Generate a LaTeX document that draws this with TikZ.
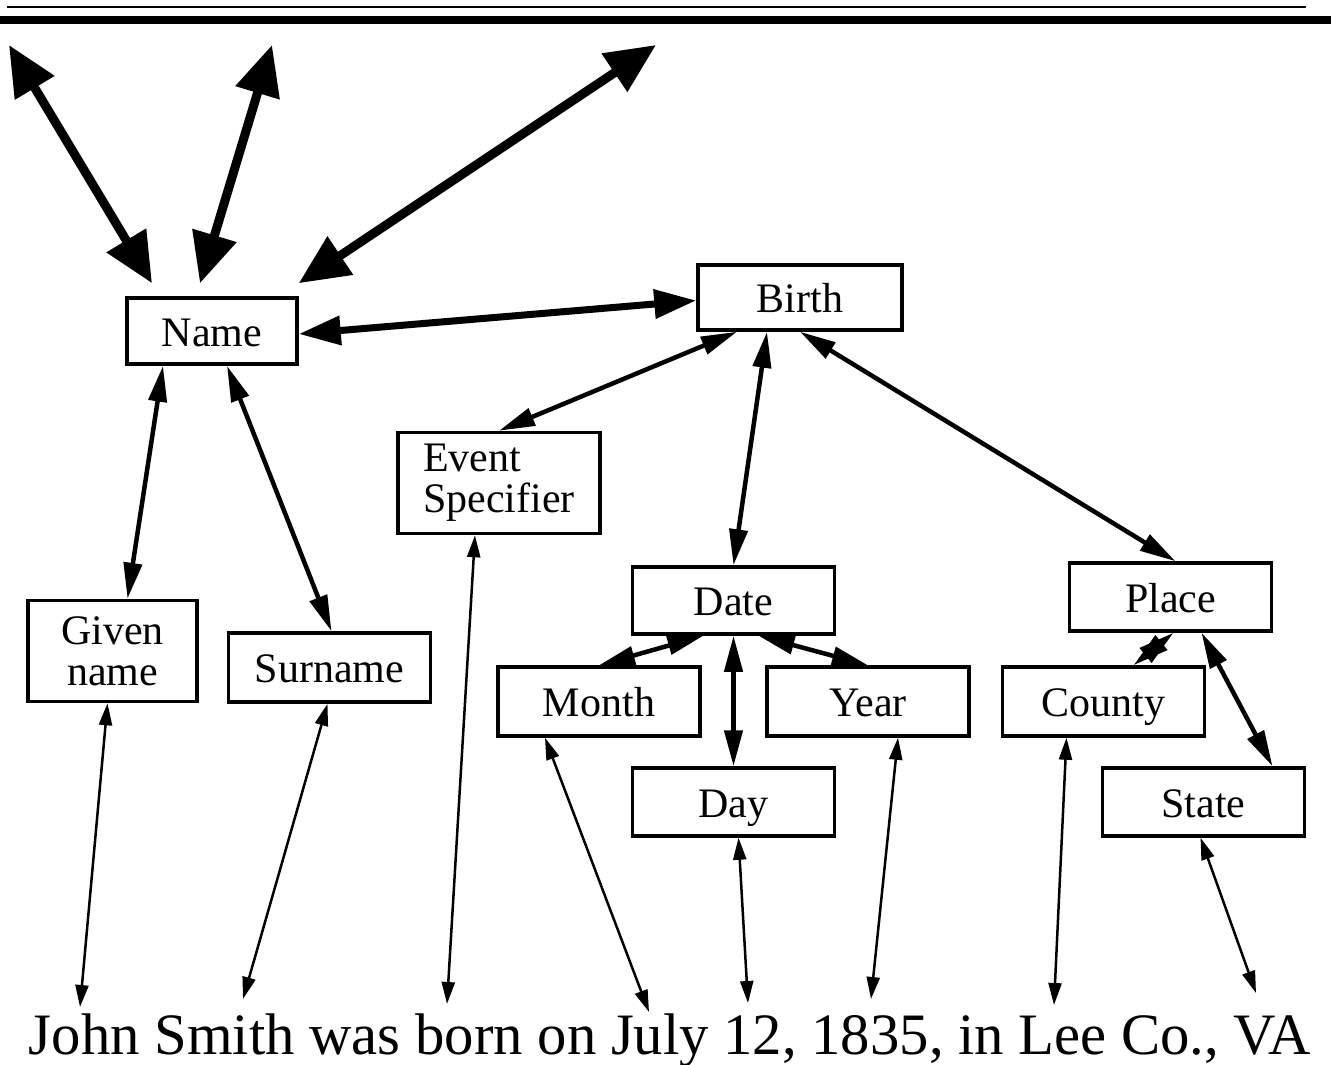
\documentclass[tikz,border=0pt]{standalone}
\usepackage{fontspec}
\setmainfont{Liberation Serif}
\usetikzlibrary{arrows.meta}

\newcommand{\boxfont}{\fontsize{42}{41}\selectfont}
\newcommand{\sentfont}{\fontsize{58.7}{62}\selectfont}

\begin{document}
\begin{tikzpicture}[
  x=1pt, y=-1pt,
  box/.style={draw, line width=3.5pt, minimum width=202pt, minimum height=67pt, inner sep=0pt, font=\boxfont},
  onebox/.style={box, text height=30pt, text depth=0pt},
  twobox/.style={box, align=left, minimum height=101pt},
  bigarrow/.style={line width=9pt, {Triangle[length=50pt,width=44pt]}-{Triangle[length=50pt,width=44pt]}},
  namearrow/.style={line width=7pt, {Triangle[length=42pt,width=28pt]}-{Triangle[length=42pt,width=28pt]}},
  link/.style={line width=4.5pt, {Triangle[length=36pt,width=18pt]}-{Triangle[length=36pt,width=18pt]}},
  wordlink/.style={line width=2.5pt, {Triangle[length=22pt,width=13pt]}-{Triangle[length=22pt,width=13pt]}}
]
\useasboundingbox (0,0) rectangle (1331,1065);

% === Rules at the top ===
\draw[line width=2.5pt] (7,7) -- (1306,7);
\draw[line width=8pt] (0,20) -- (1331,20);

% === Boxes ===
\node[onebox, minimum width=170pt, minimum height=66pt] (name) at (212,331) {Name};
\node[onebox, minimum width=204pt, minimum height=65pt] (birth) at (800,297.5) {Birth};
\node[twobox] (event) at (499,483) {Event\\Specifier};
\node[twobox, align=center, minimum width=169pt] (given) at (112.5,651) {Given\\name};
\node[onebox, minimum height=69pt] (surname) at (329.5,667.5) {Surname};
\node[onebox] (date) at (733.5,600.5) {Date};
\node[onebox, minimum height=68pt] (place) at (1170.5,597) {Place};
\node[onebox, minimum height=69pt] (month) at (599,701.5) {Month};
\node[onebox, minimum height=69pt] (year) at (868,701.5) {Year};
\node[onebox, minimum height=69pt] (county) at (1103.5,701.5) {County};
\node[onebox, minimum height=68pt] (day) at (733.5,802) {Day};
\node[onebox, minimum height=68pt] (state) at (1203.5,802) {State};

% === Sentence ===
\node[font=\sentfont, anchor=base, inner sep=0pt] (sentence) at (670,1054)
  {John Smith was born on July 12, 1835, in Lee Co., VA};

% === Free ends ===
\coordinate (farA) at (9,45);
\coordinate (farB) at (272,45);
\coordinate (farC) at (656,45);
\coordinate (wJohn) at (80,1007);
\coordinate (wSmith) at (243,999);
\coordinate (wBorn) at (447,1004);
\coordinate (wJuly) at (649,1012);
\coordinate (wDay) at (748,1003);
\coordinate (wYear) at (871,999);
\coordinate (wLee) at (1054,1005);
\coordinate (wVA) at (1256,993);

% === Thick links out of Name ===
\draw[bigarrow] ([xshift=-60pt,yshift=13pt]name.north) -- (farA);
\draw[bigarrow] ([xshift=-12pt,yshift=13pt]name.north) -- (farB);
\draw[bigarrow] ([yshift=13pt]name.north east) -- (farC);
\draw[namearrow] ([yshift=-3pt]name.east) -- ([yshift=-3pt]birth.west);

% === Links between boxes ===
\draw[link] ([xshift=-63pt]birth.south) -- (event.north);
\draw[link] ([xshift=-33pt]birth.south) -- (date.north);
\draw[link] (birth.south) -- ([xshift=5pt]place.north);
\draw[link] ([xshift=-49pt]name.south) -- ([xshift=15pt]given.north);
\draw[link] ([xshift=15pt]name.south) -- ([xshift=2pt]surname.north);
\draw[link] ([xshift=-30pt]date.south) -- (month.north);
\draw[link] ([xshift=25pt]date.south) -- (year.north);
\draw[link] (date.south) -- (day.north);
\draw[link] ([xshift=3pt]place.south) -- ([xshift=30pt]county.north);
\draw[link] ([xshift=31pt]place.south) -- ([xshift=69pt]state.north);

% === Links down to the words ===
\draw[wordlink] ([xshift=-5pt]given.south) -- (wJohn);
\draw[wordlink] ([xshift=-2pt]surname.south) -- (wSmith);
\draw[wordlink] ([xshift=-24pt]event.south) -- (wBorn);
\draw[wordlink] ([xshift=-54pt]month.south) -- (wJuly);
\draw[wordlink] ([xshift=5pt]day.south) -- (wDay);
\draw[wordlink] ([xshift=30pt]year.south) -- (wYear);
\draw[wordlink] ([xshift=-37pt]county.south) -- (wLee);
\draw[wordlink] ([xshift=-3pt]state.south) -- (wVA);

\end{tikzpicture}
\end{document}
